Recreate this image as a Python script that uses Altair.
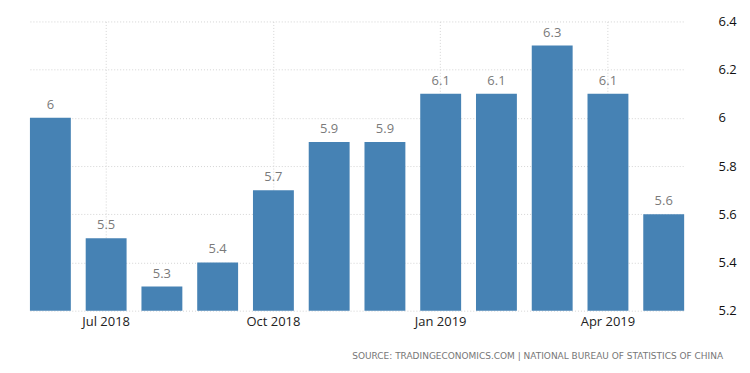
import altair as alt
import pandas as pd

months = ["Jun 2018", "Jul 2018", "Aug 2018", "Sep 2018", "Oct 2018", "Nov 2018",
          "Dec 2018", "Jan 2019", "Feb 2019", "Mar 2019", "Apr 2019", "May 2019"]
values = [6.0, 5.5, 5.3, 5.4, 5.7, 5.9, 5.9, 6.1, 6.1, 6.3, 6.1, 5.6]
tick_months = ["Jul 2018", "Oct 2018", "Jan 2019", "Apr 2019"]
y_ticks = [5.2, 5.4, 5.6, 5.8, 6.0, 6.2, 6.4]
source = "SOURCE: TRADINGECONOMICS.COM | NATIONAL BUREAU OF STATISTICS OF CHINA"

df = pd.DataFrame({"month": months, "value": values})
df["label"] = [("%g" % v) for v in values]

font = "Open Sans"

x = alt.X("month:N", sort=months,
          scale=alt.Scale(domain=months, range=[30, 686], paddingInner=0.2666, paddingOuter=0),
          axis=alt.Axis(title=None, values=tick_months, labelAngle=0, grid=True,
                        bandPosition=0.5, ticks=False, domain=False,
                        labelFont=font, labelFontSize=13, labelColor="#222222",
                        labelPadding=5, gridColor="#d4d4d4", gridDash=[1, 2]))
y = alt.Y("value:Q",
          scale=alt.Scale(domain=[5.2, 6.4], zero=False, nice=False),
          axis=alt.Axis(title=None, orient="right", values=y_ticks, ticks=False, domain=False,
                        labelFont=font, labelFontSize=13, labelColor="#111111",
                        labelPadding=5, gridColor="#d4d4d4", gridDash=[1, 2],
                        labelExpr="format(datum.value, '.1~f')"))

bars = alt.Chart(df).mark_bar(color="#4682b4").encode(x=x, y=y, y2=alt.datum(5.2))
labels = alt.Chart(df).mark_text(baseline="bottom", dy=-6, font=font, fontSize=13,
                                 color="#7a7a7a").encode(x=x, y=y, text="label:N")

chart = (bars + labels).properties(
    width=715, height=290,
    padding={"left": -8, "top": 7, "right": 5, "bottom": 5},
    title=alt.TitleParams(source, orient="bottom", anchor="end", frame="group",
                          font="DejaVu Sans", fontSize=9, fontWeight="normal",
                          color="#777777", offset=23, dx=10),
).configure_view(stroke=None)

chart.save("out.html", embed_options={"renderer": "svg", "actions": False})
